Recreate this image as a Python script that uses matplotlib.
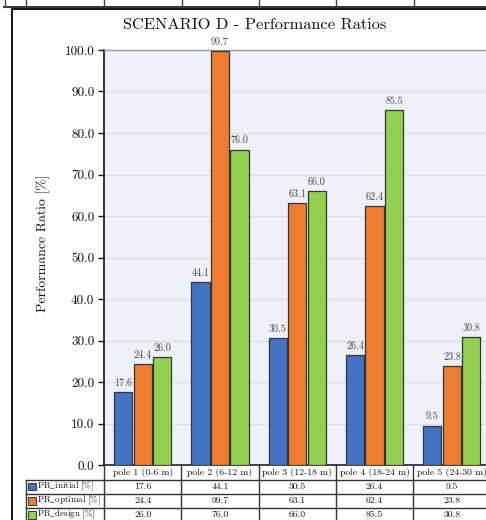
import numpy as np
import matplotlib.pyplot as plt
from matplotlib.lines import Line2D
from matplotlib.patches import Rectangle
from matplotlib.transforms import blended_transform_factory

plt.rcParams['font.family'] = ['cmr10', 'DejaVu Serif']
plt.rcParams['mathtext.fontset'] = 'cm'
plt.rcParams['axes.formatter.use_mathtext'] = True

# dados
poles = ['pole 1 (0-6 m)', 'pole 2 (6-12 m)', 'pole 3 (12-18 m)',
         'pole 4 (18-24 m)', 'pole 5 (24-30 m)']
series = ['PR_initial [%]', 'PR_optimal [%]', 'PR_design [%]']
pr_initial = [17.6, 44.1, 30.5, 26.4, 9.5]
pr_optimal = [24.4, 99.7, 63.1, 62.4, 23.8]
pr_design = [26.0, 76.0, 66.0, 85.5, 30.8]
cores = ['#4472C4', '#ED7D31', '#92D050']

W, H = 486, 520

def fx(x):
    return x / W

def fy(y):
    return 1 - y / H

# cmr10 nao tem "_" de verdade, entao usa mathtext
def rotulo(s):
    s = s.replace('_', r'\_').replace('%', r'\%').replace(' ', r'\ ')
    return r'$\mathrm{' + s + '}$'

fig = plt.figure(figsize=(W / 100, H / 100), dpi=100)

# moldura e tabela de cima (cortada)
fig.add_artist(Rectangle((fx(12), fy(600)), fx(600), fy(8.5) - fy(600),
                         transform=fig.transFigure, fill=False,
                         edgecolor='#111111', linewidth=1.4))
fig.add_artist(Line2D([fx(4), fx(500)], [fy(7), fy(7)], transform=fig.transFigure,
                      color='#222222', linewidth=1.3))
for xv in [5, 25.5, 104, 181.5, 259, 336, 413.5]:
    fig.add_artist(Line2D([fx(xv), fx(xv)], [fy(-2), fy(7)], transform=fig.transFigure,
                          color='#444444', linewidth=1.0))

ax = fig.add_axes([fx(104), fy(465), fx(490.5) - fx(104), fy(50) - fy(465)])
ax.set_facecolor('#eef1f9')

x = np.arange(len(poles))
largura = 0.235
passo = 0.252
valores = [pr_initial, pr_optimal, pr_design]
for k, (vals, cor) in enumerate(zip(valores, cores)):
    barras = ax.bar(x + (k - 1) * passo, vals, largura, color=cor,
                    edgecolor='#333333', linewidth=0.9, zorder=3)
    for b, v in zip(barras, vals):
        ax.annotate(f'{v:.1f}', (b.get_x() + b.get_width() / 2, v),
                    xytext=(0, 3), textcoords='offset points',
                    ha='center', va='bottom', fontsize=7.3, color='#444444')

ax.set_xlim(-0.5, len(poles) - 0.5)
ax.set_ylim(0, 100)
ax.set_yticks(np.arange(0, 101, 10))
ax.yaxis.set_major_formatter(plt.FormatStrFormatter('%.1f'))
ax.set_xticks([])
ax.tick_params(axis='y', direction='out', length=4, width=1, labelsize=9.5,
               colors='#111111', pad=3)
ax.grid(axis='y', color='#d9dce3', linewidth=0.9, zorder=0)
ax.spines['left'].set_color('#111111')
ax.spines['left'].set_linewidth(1.2)
ax.spines['bottom'].set_color('#222222')
ax.spines['bottom'].set_linewidth(1.2)
ax.spines['top'].set_color('#999999')
ax.spines['top'].set_linewidth(1.0)
ax.spines['right'].set_visible(False)

fig.text(fx(255), fy(25), 'SCENARIO D - Performance Ratios', ha='center',
         va='center', fontsize=11.8, color='#111111')
fig.text(fx(43), fy(243), 'Performance Ratio [%]', rotation=90, ha='center',
         va='center', fontsize=10, color='#111111')

# tabela de dados
trans = blended_transform_factory(ax.transData, fig.transFigure)
linhas_y = [465, 480, 494.3, 508.3, 522.3]
cor_linha = '#333333'
for yv in linhas_y[1:]:
    fig.add_artist(Line2D([fx(25.5), fx(500)], [fy(yv), fy(yv)],
                          transform=fig.transFigure, color=cor_linha, linewidth=1.0))
fig.add_artist(Line2D([fx(25.5), fx(25.5)], [fy(480), fy(530)],
                      transform=fig.transFigure, color=cor_linha, linewidth=1.0))
for i in range(len(poles) + 1):
    fig.add_artist(Line2D([i - 0.5, i - 0.5], [fy(465), fy(530)], transform=trans,
                          color=cor_linha, linewidth=1.0))
for i, p in enumerate(poles):
    fig.text(i, fy(472.5), p, transform=trans, ha='center', va='center',
             fontsize=7, color='#111111')
for r, (nome, vals, cor) in enumerate(zip(series, valores, cores)):
    yc = (linhas_y[r + 1] + linhas_y[r + 2]) / 2 - 0.5
    fig.add_artist(Rectangle((fx(27.5), fy(yc + 3.8)), fx(8), fy(yc - 3.8) - fy(yc + 3.8),
                             transform=fig.transFigure, facecolor=cor,
                             edgecolor='#333333', linewidth=0.7))
    fig.text(fx(37), fy(yc), rotulo(nome), ha='left', va='center', fontsize=6.5,
             color='#111111')
    for i, v in enumerate(vals):
        fig.text(i, fy(yc), f'{v:.1f}', transform=trans, ha='center', va='center',
                 fontsize=7, color='#111111')

fig.savefig('out.png', dpi=100)
